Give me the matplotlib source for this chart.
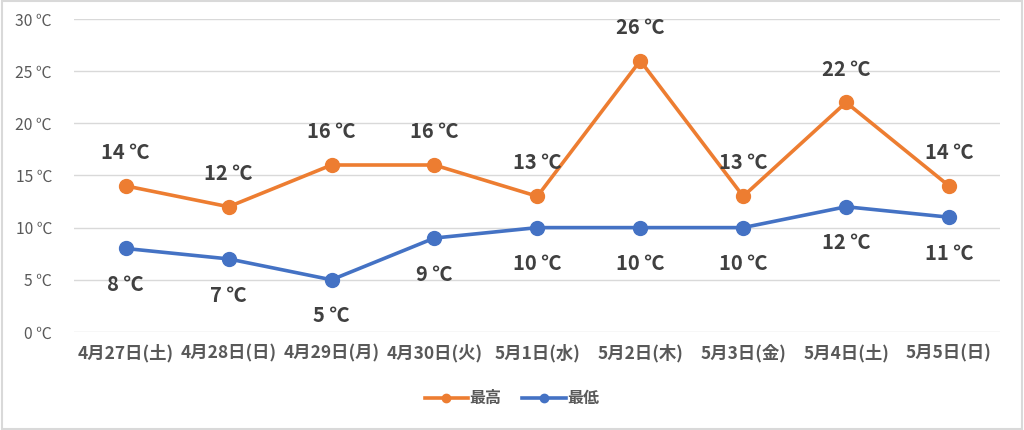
import matplotlib
matplotlib.use("Agg")
import matplotlib.pyplot as plt
from matplotlib.patches import Rectangle

plt.rcParams['font.family'] = ['Noto Sans CJK JP', 'DejaVu Sans']

days = ["4月27日(土)", "4月28日(日)", "4月29日(月)", "4月30日(火)", "5月1日(水)",
        "5月2日(木)", "5月3日(金)", "5月4日(土)", "5月5日(日)"]
high = [14, 12, 16, 16, 13, 26, 13, 22, 14]
low = [8, 7, 5, 9, 10, 10, 10, 12, 11]
yticks = [0, 5, 10, 15, 20, 25, 30]

orange = "#ED7D31"
blue = "#4472C4"
text_col = "#404040"


def main():
    fig = plt.figure(figsize=(10.24, 4.30), dpi=100)
    ax = fig.add_axes([0.0725, 0.228, 0.9045, 0.728])
    x = list(range(len(days)))

    ax.plot(x, high, color=orange, lw=2.6, marker="o", ms=10, label="最高", zorder=3)
    ax.plot(x, low, color=blue, lw=2.6, marker="o", ms=10, label="最低", zorder=3)

    for i, v in enumerate(high):
        ax.annotate(f"{v} ℃", (i, v), xytext=(0, 24), textcoords="offset points",
                    ha="center", va="center", fontsize=14.5, fontweight="bold", color=text_col)
    for i, v in enumerate(low):
        ax.annotate(f"{v} ℃", (i, v), xytext=(0, -26), textcoords="offset points",
                    ha="center", va="center", fontsize=14.5, fontweight="bold", color=text_col)

    ax.set_xlim(-0.5, len(days) - 0.5)
    ax.set_ylim(0, 30)
    ax.set_yticks(yticks)
    ax.set_yticklabels([f"{t} ℃" for t in yticks], fontsize=11.3, color="#595959")
    ax.set_xticks(x)
    ax.set_xticklabels(days, fontsize=12.5, fontweight="bold", color="#595959")
    ax.tick_params(length=0, pad=9)
    ax.tick_params(axis="y", pad=16)
    ax.grid(axis="y", color="#d9d9d9", lw=1)
    ax.set_axisbelow(True)
    for s in ax.spines.values():
        s.set_visible(False)

    fig.legend(loc="center", bbox_to_anchor=(0.5, 0.074), ncol=2, frameon=False,
               handlelength=2.7, columnspacing=1.3, handletextpad=0.1, markerscale=0.6,
               prop={"weight": "bold", "size": 11.5})
    for t in fig.legends[0].get_texts():
        t.set_color("#595959")

    fig.patches.append(Rectangle((0.002, 0.003), 0.996, 0.994, transform=fig.transFigure,
                                 fill=False, edgecolor="#d9d9d9", lw=1.5))
    fig.savefig("out.png", dpi=100)


if __name__ == "__main__":
    main()
